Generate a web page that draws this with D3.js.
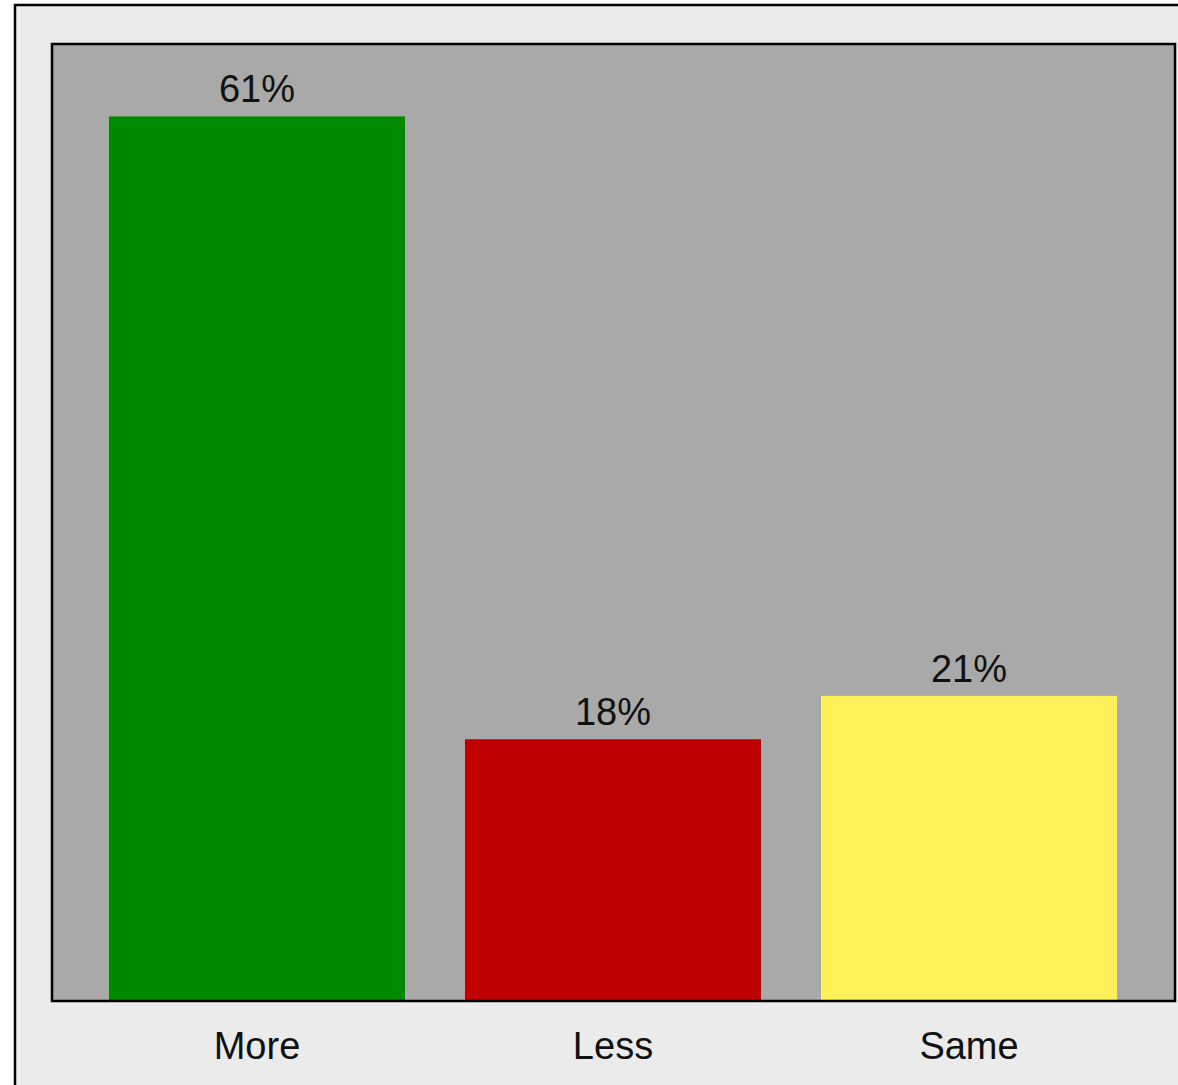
<!DOCTYPE html>
<html>
<head>
<meta charset="utf-8">
<script src="https://cdn.jsdelivr.net/npm/d3@7"></script>
<style>
html, body { margin: 0; padding: 0; background: #ffffff; }
svg { display: block; }
text { font-family: "Liberation Sans", Arial, Helvetica, sans-serif; font-weight: 400; fill: #111; }
</style>
</head>
<body>
<script>
const categories = ["More", "Less", "Same"];
const values = [61, 18, 21];
const valueLabels = ["61%", "18%", "21%"];
const colors = ["#008a00", "#bf0000", "#ffef59"];

const W = 1178, H = 1085;
const svg = d3.select("body").append("svg").attr("width", W).attr("height", H);

// outer panel
svg.append("rect")
  .attr("x", 15).attr("y", 5).attr("width", W + 20).attr("height", H + 20)
  .attr("fill", "#ebebeb").attr("stroke", "#000").attr("stroke-width", 2.5);

const plot = { left: 52, top: 44, right: 1175, bottom: 1001 };

const x = d3.scaleBand().domain(categories)
  .range([plot.left, plot.right - 1]).paddingInner(0.1685).paddingOuter(0.16);
const y = d3.scaleLinear().domain([0, 66]).range([plot.bottom - 1, plot.top]);

// plot background
svg.append("rect")
  .attr("x", plot.left).attr("y", plot.top)
  .attr("width", plot.right - plot.left).attr("height", plot.bottom - plot.top)
  .attr("fill", "#a9a9a9");

svg.selectAll("rect.bar").data(values).join("rect")
  .attr("class", "bar")
  .attr("x", (d, i) => x(categories[i]))
  .attr("width", x.bandwidth())
  .attr("y", d => y(d))
  .attr("height", d => y(0) - y(d) + 1)
  .attr("fill", (d, i) => colors[i]);

svg.selectAll("text.val").data(values).join("text")
  .attr("class", "val")
  .attr("x", (d, i) => x(categories[i]) + x.bandwidth() / 2)
  .attr("y", d => y(d) - 14)
  .attr("text-anchor", "middle")
  .attr("font-size", 38)
  .text((d, i) => valueLabels[i]);

// plot frame
svg.append("rect")
  .attr("x", plot.left).attr("y", plot.top)
  .attr("width", plot.right - plot.left).attr("height", plot.bottom - plot.top)
  .attr("fill", "none").attr("stroke", "#000").attr("stroke-width", 2.5);

// x axis labels
const xAxis = d3.axisBottom(x).tickSize(0).tickPadding(0);
const gx = svg.append("g").attr("transform", `translate(0,${plot.bottom})`).call(xAxis);
gx.select(".domain").remove();
gx.selectAll("text")
  .attr("dy", null).attr("y", 58)
  .attr("font-size", 38)
  .style("font-family", "\"Liberation Sans\", Arial, Helvetica, sans-serif")
  .style("font-weight", 400)
  .attr("fill", "#111");
</script>
</body>
</html>
